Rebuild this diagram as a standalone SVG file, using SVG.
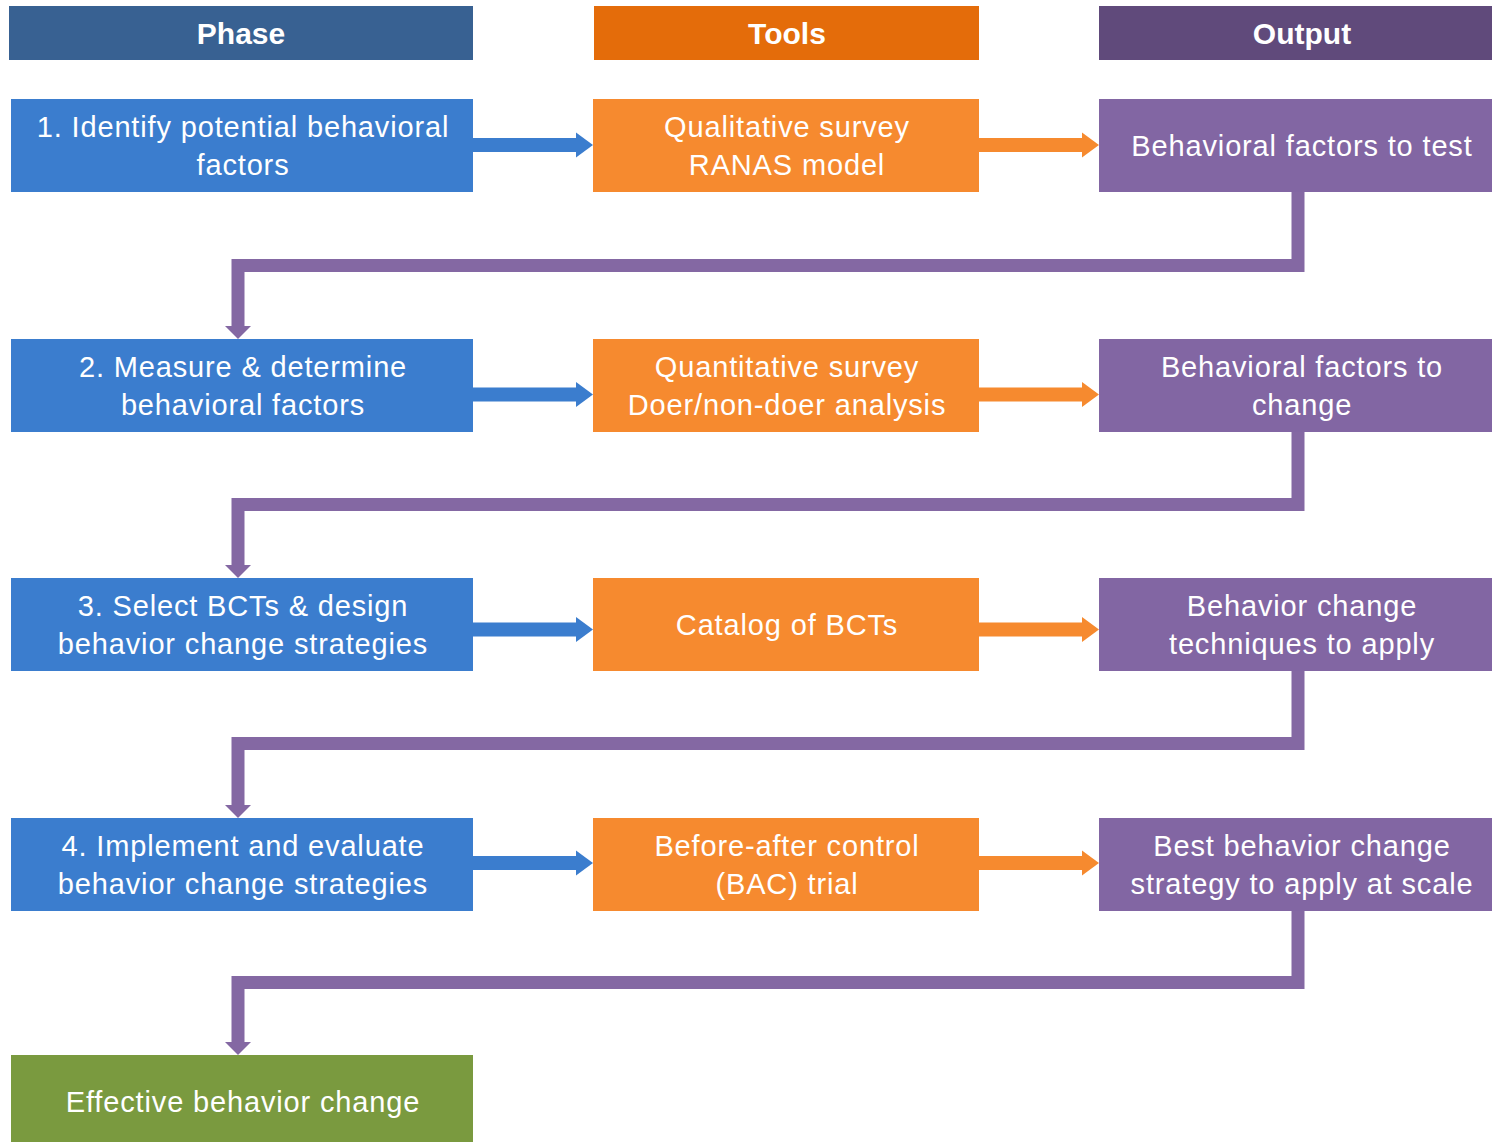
<svg xmlns="http://www.w3.org/2000/svg" width="1492" height="1142" viewBox="0 0 1492 1142">
<style>
text{font-family:"Liberation Sans",Arial,sans-serif;fill:#fff;text-anchor:middle}
.hd{font-size:30px;font-weight:bold}
.t{font-size:29px;letter-spacing:0.85px}
.blue{fill:#3B7DCE}
.orange{fill:#F68A2F}
.purple{fill:#8266A3}
.green{fill:#7A9A3F}
.cb{fill:none;stroke:#3B7DCE;stroke-width:14}
.co{fill:none;stroke:#F68A2F;stroke-width:14}
.cp{fill:none;stroke:#8468A3;stroke-width:13;stroke-linejoin:miter}
</style>
<defs>
<marker id="hb" markerUnits="userSpaceOnUse" viewBox="0 -13 17 26" markerWidth="17" markerHeight="26" refX="0" refY="0" orient="auto"><path d="M0,-12.5 L17,0 L0,12.5 z" fill="#3B7DCE"/></marker>
<marker id="ho" markerUnits="userSpaceOnUse" viewBox="0 -13 17 26" markerWidth="17" markerHeight="26" refX="0" refY="0" orient="auto"><path d="M0,-12.5 L17,0 L0,12.5 z" fill="#F68A2F"/></marker>
<marker id="hp" markerUnits="userSpaceOnUse" viewBox="0 -13 13 26" markerWidth="13" markerHeight="26" refX="0" refY="0" orient="auto"><path d="M0,-13 L13,0 L0,13 z" fill="#8468A3"/></marker>
</defs>

<g id="header-phase"><rect x="9" y="6" width="464" height="54" fill="#386192"/><text class="hd" x="241" y="44">Phase</text></g>
<g id="header-tools"><rect x="594" y="6" width="385" height="54" fill="#E46C0A"/><text class="hd" x="787" y="44">Tools</text></g>
<g id="header-output"><rect x="1099" y="6" width="393" height="54" fill="#604A7B"/><text class="hd" x="1302" y="44">Output</text></g>

<g id="connectors">
<path class="cb" d="M473,145 H576" marker-end="url(#hb)"/>
<path class="co" d="M979,145 H1082" marker-end="url(#ho)"/>
<path class="cb" d="M473,394.5 H576" marker-end="url(#hb)"/>
<path class="co" d="M979,394.5 H1082" marker-end="url(#ho)"/>
<path class="cb" d="M473,629.5 H576" marker-end="url(#hb)"/>
<path class="co" d="M979,629.5 H1082" marker-end="url(#ho)"/>
<path class="cb" d="M473,863 H576" marker-end="url(#hb)"/>
<path class="co" d="M979,863 H1082" marker-end="url(#ho)"/>
<path class="cp" d="M1298,192 V265.5 H238 V326" marker-end="url(#hp)"/>
<path class="cp" d="M1298,432 V504.5 H238 V565" marker-end="url(#hp)"/>
<path class="cp" d="M1298,671 V743.5 H238 V805" marker-end="url(#hp)"/>
<path class="cp" d="M1298,911 V982.5 H238 V1042" marker-end="url(#hp)"/>
</g>

<g id="phase1"><rect class="blue" x="11" y="99" width="462" height="93"/><text class="t" x="243" y="137">1. Identify potential behavioral</text><text class="t" x="243" y="175">factors</text></g>
<g id="tool1"><rect class="orange" x="593" y="99" width="386" height="93"/><text class="t" x="787" y="137">Qualitative survey</text><text class="t" x="787" y="175">RANAS model</text></g>
<g id="output1"><rect class="purple" x="1099" y="99" width="393" height="93"/><text class="t" x="1302" y="156">Behavioral factors to test</text></g>

<g id="phase2"><rect class="blue" x="11" y="339" width="462" height="93"/><text class="t" x="243" y="377">2. Measure &amp; determine</text><text class="t" x="243" y="415">behavioral factors</text></g>
<g id="tool2"><rect class="orange" x="593" y="339" width="386" height="93"/><text class="t" x="787" y="377">Quantitative survey</text><text class="t" x="787" y="415">Doer/non-doer analysis</text></g>
<g id="output2"><rect class="purple" x="1099" y="339" width="393" height="93"/><text class="t" x="1302" y="377">Behavioral factors to</text><text class="t" x="1302" y="415">change</text></g>

<g id="phase3"><rect class="blue" x="11" y="578" width="462" height="93"/><text class="t" x="243" y="616">3. Select BCTs &amp; design</text><text class="t" x="243" y="654">behavior change strategies</text></g>
<g id="tool3"><rect class="orange" x="593" y="578" width="386" height="93"/><text class="t" x="787" y="635">Catalog of BCTs</text></g>
<g id="output3"><rect class="purple" x="1099" y="578" width="393" height="93"/><text class="t" x="1302" y="616">Behavior change</text><text class="t" x="1302" y="654">techniques to apply</text></g>

<g id="phase4"><rect class="blue" x="11" y="818" width="462" height="93"/><text class="t" x="243" y="856">4. Implement and evaluate</text><text class="t" x="243" y="894">behavior change strategies</text></g>
<g id="tool4"><rect class="orange" x="593" y="818" width="386" height="93"/><text class="t" x="787" y="856">Before-after control</text><text class="t" x="787" y="894">(BAC) trial</text></g>
<g id="output4"><rect class="purple" x="1099" y="818" width="393" height="93"/><text class="t" x="1302" y="856">Best behavior change</text><text class="t" x="1302" y="894">strategy to apply at scale</text></g>

<g id="result"><rect class="green" x="11" y="1055" width="462" height="87"/><text class="t" x="243" y="1112">Effective behavior change</text></g>
</svg>
